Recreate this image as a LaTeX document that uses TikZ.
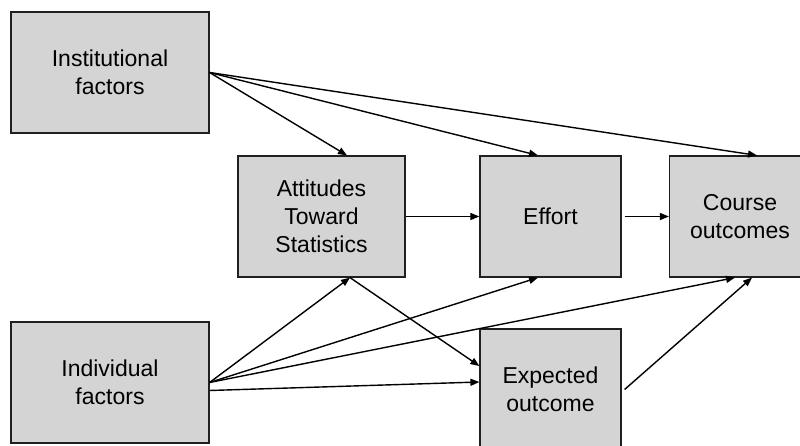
\documentclass[tikz,border=0pt]{standalone}
\usepackage{fontspec}
\setmainfont{Liberation Sans}
\usetikzlibrary{arrows.meta}
\definecolor{boxfill}{HTML}{D4D4D4}
\definecolor{boxline}{HTML}{202020}
\begin{document}
\begin{tikzpicture}[x=1pt,y=-1pt,
  factor/.style={draw=boxline,fill=boxfill,line width=1.2pt,rectangle,
    minimum height=121pt,align=center,inner sep=0pt,
    font=\fontsize{23}{28}\selectfont},
  link/.style={line width=1.4pt,-{Triangle[length=9pt,width=7pt]}}]
\useasboundingbox (0,0) rectangle (800,446);

% boxes
\node[factor,minimum width=198pt] (inst)   at (110,72.5)   {Institutional\\factors};
\node[factor,minimum width=167pt] (att)    at (321.5,216.5) {Attitudes\\Toward\\Statistics};
\node[factor,minimum width=141pt] (eff)    at (550.5,216.5) {Effort};
\node[factor,minimum width=141pt] (course) at (740,216.5)   {Course\\outcomes};
\node[factor,minimum width=198pt] (indiv)  at (110,382.5)  {Individual\\factors};
\node[factor,minimum width=141pt] (exp)    at (550.5,389.5) {Expected\\outcome};

% influences of institutional factors
\draw[link] (inst.east) -- ([xshift=25.5pt]att.north);
\draw[link] (inst.east) -- ([xshift=-12.5pt]eff.north);
\draw[link] (inst.east) -- ([xshift=17pt]course.north);

% main chain
\draw[link] (att.east) -- (eff.west);
\draw[link,shorten <=3pt] (eff.east) -- (course.west);

% influences of individual factors
\draw[link] (indiv.east) -- ([xshift=28.5pt]att.south);
\draw[link] (indiv.east) -- ([xshift=-12.5pt]eff.south);
\draw[link] (indiv.east) -- ([xshift=-5pt]course.south);
\draw[link] ([yshift=-8pt]indiv.east) -- ([yshift=7.5pt]exp.west);

% expected outcome
\draw[link] ([xshift=28.5pt]att.south) -- ([yshift=23.5pt]exp.west);
\draw[link] ([xshift=3pt]exp.east) -- ([xshift=12pt]course.south);
\end{tikzpicture}
\end{document}
